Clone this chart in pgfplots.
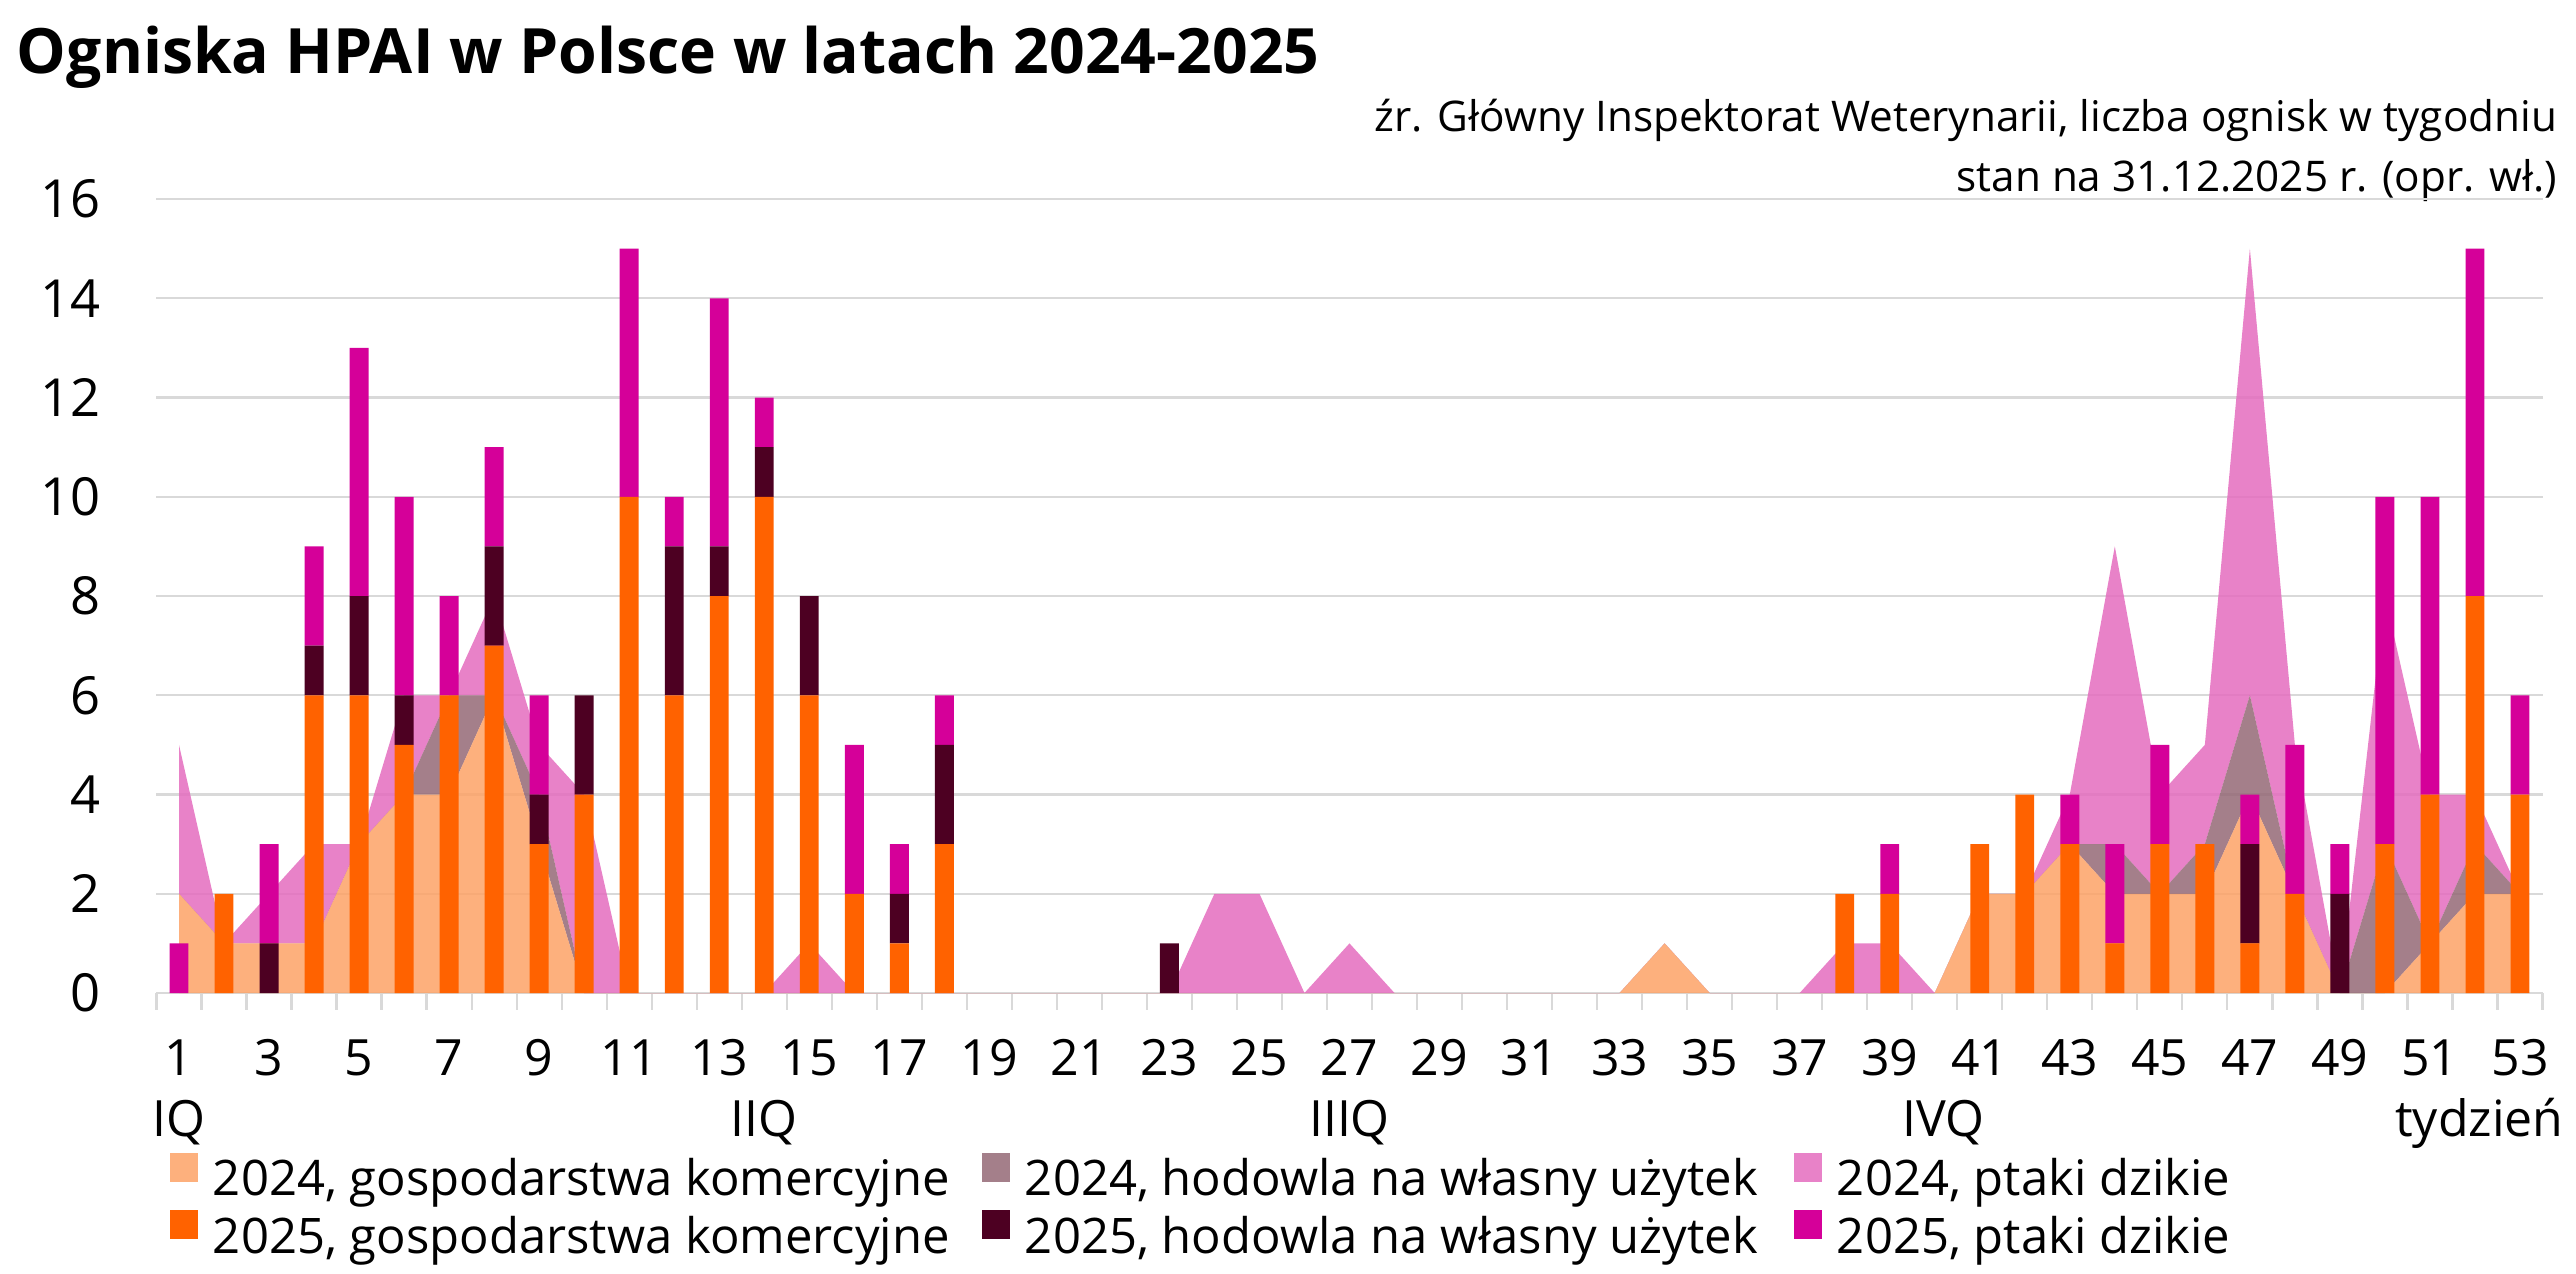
\documentclass[border=0pt]{standalone}
\usepackage{fontspec}
\setmainfont{Open Sans}
\usepackage{pgfplots}
\pgfplotsset{compat=1.18}
\usepackage{pgfplotstable}

\definecolor{aCom}{RGB}{253,162,102}
\definecolor{aOwn}{RGB}{148,105,118}
\definecolor{aWild}{RGB}{228,108,190}
\definecolor{bCom}{RGB}{255,98,0}
\definecolor{bOwn}{RGB}{77,0,34}
\definecolor{bWild}{RGB}{213,0,153}
\definecolor{gridc}{RGB}{217,217,217}

\pgfplotsset{legimg/.style={legend image code/.code={\fill[##1] (0pt,0pt) rectangle (5.6pt,5.8pt);}}}

% 2024: week, commercial farms, own-use, wild birds
\pgfplotstableread{
w com own wild
1 2 0 3
2 1 0 0
3 1 0 1
4 1 0 2
5 3 0 0
6 4 0 2
7 4 2 0
8 6 0 2
9 3 1 1
10 0 0 4
11 0 0 0
12 0 0 0
13 0 0 0
14 0 0 0
15 0 0 1
16 0 0 0
17 0 0 0
18 0 0 0
19 0 0 0
20 0 0 0
21 0 0 0
22 0 0 0
23 0 0 0
24 0 0 2
25 0 0 2
26 0 0 0
27 0 0 1
28 0 0 0
29 0 0 0
30 0 0 0
31 0 0 0
32 0 0 0
33 0 0 0
34 1 0 0
35 0 0 0
36 0 0 0
37 0 0 0
38 0 0 1
39 0 0 1
40 0 0 0
41 2 0 0
42 2 0 0
43 3 0 1
44 2 1 6
45 2 0 2
46 2 1 2
47 4 2 9
48 2 0 3
49 0 0 0
50 0 3 5
51 1 0 3
52 2 1 1
53 2 0 0
}\tA

% 2025: week, commercial farms, own-use, wild birds
\pgfplotstableread{
w com own wild
1 0 0 1
2 2 0 0
3 0 1 2
4 6 1 2
5 6 2 5
6 5 1 4
7 6 0 2
8 7 2 2
9 3 1 2
10 4 2 0
11 10 0 5
12 6 3 1
13 8 1 5
14 10 1 1
15 6 2 0
16 2 0 3
17 1 1 1
18 3 2 1
19 0 0 0
20 0 0 0
21 0 0 0
22 0 0 0
23 0 1 0
24 0 0 0
25 0 0 0
26 0 0 0
27 0 0 0
28 0 0 0
29 0 0 0
30 0 0 0
31 0 0 0
32 0 0 0
33 0 0 0
34 0 0 0
35 0 0 0
36 0 0 0
37 0 0 0
38 2 0 0
39 2 0 1
40 0 0 0
41 3 0 0
42 4 0 0
43 3 0 1
44 1 0 2
45 3 0 2
46 3 0 0
47 1 2 1
48 2 0 3
49 0 2 1
50 3 0 7
51 4 0 6
52 8 0 7
53 4 0 2
}\tB

\begin{document}
\begin{tikzpicture}
\path[use as bounding box] (0,0) rectangle (515.2pt,254.8pt);

\node[anchor=base west, inner sep=0pt, font=\bfseries\fontsize{12.5}{14}\selectfont] at (3.2pt,240pt) {Ogniska HPAI w Polsce w latach 2024-2025};
\node[anchor=base east, inner sep=0pt, font=\fontsize{8.45}{10}\selectfont] at (511.6pt,228.4pt) {źr. Główny Inspektorat Weterynarii, liczba ognisk w tygodniu};
\node[anchor=base east, inner sep=0pt, font=\fontsize{8.45}{10}\selectfont] at (511.6pt,216.4pt) {stan na 31.12.2025 r. (opr. wł.)};

\begin{axis}[
  at={(31.3pt,56.2pt)}, anchor=south west,
  scale only axis, width=477.2pt, height=158.8pt,
  xmin=0.5, xmax=53.5, ymin=0, ymax=16,
  clip=false,
  stack plots=y,
  axis line style={draw=none},
  xtick pos=bottom, ytick pos=left,
  ytick={0,2,...,16},
  ymajorgrids, grid style={gridc, line width=0.45pt},
  xtick={1,3,...,53},
  minor xtick={0.5,1.5,...,53.5},
  major tick length=0pt,
  minor tick length=3.4pt,
  tick align=outside,
  major tick style={draw=none},
  minor x tick style={gridc, line width=0.45pt},
  /pgf/number format/assume math mode=true,
  yticklabel style={font=\fontsize{10.5}{12}\selectfont, anchor=east, inner sep=0pt, xshift=-10.9pt},
  xticklabel style={font=\fontsize{10}{12}\selectfont, anchor=base, inner sep=0pt, yshift=-16.4pt},
]
\addplot[fill=aCom, fill opacity=0.85, draw=none] table[x=w,y=com]{\tA} \closedcycle;
\addplot[fill=aOwn, fill opacity=0.85, draw=none] table[x=w,y=own]{\tA} \closedcycle;
\addplot[fill=aWild, fill opacity=0.85, draw=none] table[x=w,y=wild]{\tA} \closedcycle;

\node[anchor=base, inner sep=0pt, font=\fontsize{10}{12}\selectfont, yshift=-28.6pt] at (axis cs:1,0) {IQ};
\node[anchor=base, inner sep=0pt, font=\fontsize{10}{12}\selectfont, yshift=-28.6pt] at (axis cs:14,0) {IIQ};
\node[anchor=base, inner sep=0pt, font=\fontsize{10}{12}\selectfont, yshift=-28.6pt] at (axis cs:27,0) {IIIQ};
\node[anchor=base, inner sep=0pt, font=\fontsize{10}{12}\selectfont, yshift=-28.6pt] at (axis cs:40.2,0) {IVQ};
\node[anchor=base, inner sep=0pt, font=\fontsize{10}{12}\selectfont, yshift=-28.6pt] at (axis cs:52.1,0) {tydzień};
\end{axis}

\begin{axis}[
  at={(31.3pt,56.2pt)}, anchor=south west,
  scale only axis, width=477.2pt, height=158.8pt,
  xmin=0.5, xmax=53.5, ymin=0, ymax=16,
  clip=false,
  hide axis,
  ybar stacked, bar width=0.42,
  legend columns=3,
  legend style={draw=none, fill=none, inner sep=0pt, outer sep=0pt,
    at={(axis description cs:0.00566,-0.201)}, anchor=north west,
    font=\fontsize{9.8}{11}\selectfont, row sep=1pt,
    nodes={inner sep=0pt, text height=7.5pt, text depth=2pt},
    /tikz/every odd column/.append style={column sep=3pt},
    /tikz/every even column/.append style={column sep=3.8pt}},
]
\addlegendimage{legimg, fill=aCom, fill opacity=0.85, draw=none}
\addlegendentry{\makebox[150pt][l]{2024, gospodarstwa komercyjne}}
\addlegendimage{legimg, fill=aOwn, fill opacity=0.85, draw=none}
\addlegendentry{\makebox[150pt][l]{2024, hodowla na własny użytek}}
\addlegendimage{legimg, fill=aWild, fill opacity=0.85, draw=none}
\addlegendentry{\makebox[150pt][l]{2024, ptaki dzikie}}
\addplot[fill=bCom, draw=none, legimg] table[x=w,y=com]{\tB};
\addlegendentry{\makebox[150pt][l]{2025, gospodarstwa komercyjne}}
\addplot[fill=bOwn, draw=none, legimg] table[x=w,y=own]{\tB};
\addlegendentry{\makebox[150pt][l]{2025, hodowla na własny użytek}}
\addplot[fill=bWild, draw=none, legimg] table[x=w,y=wild]{\tB};
\addlegendentry{\makebox[150pt][l]{2025, ptaki dzikie}}
\end{axis}
\end{tikzpicture}
\end{document}
